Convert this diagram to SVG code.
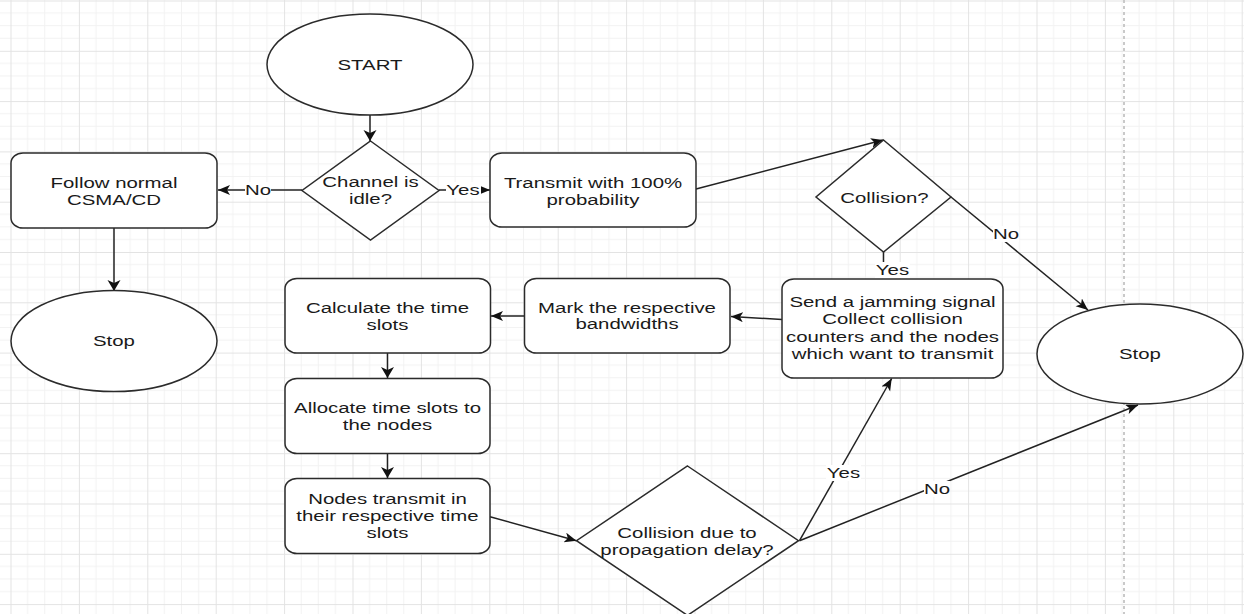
<svg xmlns="http://www.w3.org/2000/svg" width="1244" height="614" viewBox="0 0 1244 614">
<style>
.t{font-family:"Liberation Sans",Arial,sans-serif;font-size:15px;fill:#1a1a1a;text-anchor:middle}
.s{fill:#fff;stroke:#2b2b2b;stroke-width:1.5}
.c{fill:none;stroke:#222;stroke-width:1.5}
.lb{fill:#fff}
</style>
<defs>
<pattern id="grid" x="10.5" y="0.5" width="68.4" height="50.3" patternUnits="userSpaceOnUse">
<path d="M17.1 0V50.3M34.2 0V50.3M51.3 0V50.3M0 12.575H68.4M0 25.15H68.4M0 37.725H68.4" stroke="#f2f2f2" stroke-width="1" fill="none"/>
<path d="M0.5 0V50.3M0 0.5H68.4" stroke="#e3e3e3" stroke-width="1" fill="none"/>
</pattern>
<marker id="ah" markerUnits="userSpaceOnUse" markerWidth="14" markerHeight="12" refX="12" refY="5" orient="auto">
<path d="M0,0 L12,5 L0,10 L3,5 z" fill="#111"/>
</marker>
<marker id="av" markerUnits="userSpaceOnUse" markerWidth="14" markerHeight="14" refX="11" refY="6.5" orient="auto">
<path d="M0,0 L11,6.5 L0,13 L3,6.5 z" fill="#111"/>
</marker>
</defs>
<rect width="1244" height="614" fill="#fff"/>
<rect width="1244" height="614" fill="url(#grid)"/>
<line x1="1124" y1="0" x2="1124" y2="614" stroke="#c9c9c9" stroke-width="2" stroke-dasharray="3 3"/>

<g id="connectors">
<line class="c" x1="370" y1="115" x2="370" y2="141" marker-end="url(#av)"/>
<line class="c" x1="302" y1="190" x2="218" y2="190" marker-end="url(#ah)"/>
<line class="c" x1="439" y1="190" x2="490" y2="190" marker-end="url(#ah)"/>
<line class="c" x1="114" y1="228" x2="114" y2="291" marker-end="url(#av)"/>
<line class="c" x1="696" y1="189" x2="883" y2="140" marker-end="url(#ah)"/>
<line class="c" x1="883.5" y1="252" x2="883.5" y2="264"/>
<line class="c" x1="951" y1="197" x2="1088" y2="310" marker-end="url(#ah)"/>
<line class="c" x1="782" y1="319.5" x2="731" y2="316.5" marker-end="url(#ah)"/>
<line class="c" x1="524.5" y1="316" x2="491" y2="316" marker-end="url(#ah)"/>
<line class="c" x1="387.5" y1="353" x2="387.5" y2="378" marker-end="url(#av)"/>
<line class="c" x1="387.5" y1="453" x2="387.5" y2="478" marker-end="url(#av)"/>
<line class="c" x1="490" y1="516.7" x2="576.5" y2="540.7" marker-end="url(#ah)"/>
<line class="c" x1="799.5" y1="540.7" x2="891.7" y2="378.5" marker-end="url(#ah)"/>
<line class="c" x1="799.5" y1="540.7" x2="1138" y2="405" marker-end="url(#ah)"/>
<rect class="lb" x="245" y="182" width="26" height="16"/>
<text class="t" transform="translate(258 0) scale(1.36 1)" x="0" y="195.5">No</text>
<rect class="lb" x="446" y="182" width="35" height="16"/>
<text class="t" transform="translate(463 0) scale(1.36 1)" x="0" y="195.5">Yes</text>
<rect class="lb" x="875" y="262" width="35" height="16"/>
<text class="t" transform="translate(892.5 0) scale(1.36 1)" x="0" y="275">Yes</text>
<rect class="lb" x="993" y="226" width="26" height="16"/>
<text class="t" transform="translate(1006 0) scale(1.36 1)" x="0" y="239.5">No</text>
<rect class="lb" x="826" y="465" width="35" height="16"/>
<text class="t" transform="translate(843.5 0) scale(1.36 1)" x="0" y="478.5">Yes</text>
<rect class="lb" x="924" y="481" width="26" height="16"/>
<text class="t" transform="translate(937 0) scale(1.36 1)" x="0" y="494">No</text>
</g>

<g id="start">
<ellipse class="s" cx="370" cy="64.5" rx="103" ry="50.5"/>
<text class="t" transform="translate(370 0) scale(1.36 1)" x="0" y="70.5">START</text>
</g>
<g id="channel-idle">
<polygon class="s" points="370.5,141 439,190.5 370.5,240 302,190.5"/>
<text class="t" transform="translate(370.5 0) scale(1.36 1)"><tspan x="0" y="187.5">Channel is</tspan><tspan x="0" y="204.5">idle?</tspan></text>
</g>
<g id="follow-csma">
<rect class="s" x="11" y="153" width="206" height="75" rx="12" ry="10"/>
<text class="t" transform="translate(114 0) scale(1.36 1)"><tspan x="0" y="188.5">Follow normal</tspan><tspan x="0" y="205">CSMA/CD</tspan></text>
</g>
<g id="stop-left">
<ellipse class="s" cx="114" cy="341" rx="103" ry="50.5"/>
<text class="t" transform="translate(114 0) scale(1.36 1)" x="0" y="346.5">Stop</text>
</g>
<g id="transmit">
<rect class="s" x="490" y="153" width="206" height="74" rx="12" ry="10"/>
<text class="t" transform="translate(593 0) scale(1.36 1)"><tspan x="0" y="188.5">Transmit with 100%</tspan><tspan x="0" y="205">probability</tspan></text>
</g>
<g id="collision">
<polygon class="s" points="883.5,140 951,197 883.5,252 816,197"/>
<text class="t" transform="translate(884.5 0) scale(1.36 1)" x="0" y="203">Collision?</text>
</g>
<g id="stop-right">
<ellipse class="s" cx="1140" cy="354" rx="103" ry="50"/>
<text class="t" transform="translate(1140 0) scale(1.36 1)" x="0" y="359.5">Stop</text>
</g>
<g id="jamming">
<rect class="s" x="782" y="279" width="221" height="99" rx="12" ry="10"/>
<text class="t" transform="translate(892.5 0) scale(1.36 1)"><tspan x="0" y="307.3">Send a jamming signal</tspan><tspan x="0" y="324.5">Collect collision</tspan><tspan x="0" y="341.7">counters and the nodes</tspan><tspan x="0" y="359">which want to transmit</tspan></text>
</g>
<g id="mark-bandwidths">
<rect class="s" x="524.5" y="278.5" width="205.5" height="74.5" rx="12" ry="10"/>
<text class="t" transform="translate(627 0) scale(1.36 1)"><tspan x="0" y="312.7">Mark the respective</tspan><tspan x="0" y="329.5">bandwidths</tspan></text>
</g>
<g id="calculate">
<rect class="s" x="285" y="278.5" width="205.5" height="74.5" rx="12" ry="10"/>
<text class="t" transform="translate(387.5 0) scale(1.36 1)"><tspan x="0" y="313">Calculate the time</tspan><tspan x="0" y="330">slots</tspan></text>
</g>
<g id="allocate">
<rect class="s" x="285" y="378.5" width="205" height="75" rx="12" ry="10"/>
<text class="t" transform="translate(387.5 0) scale(1.36 1)"><tspan x="0" y="413.3">Allocate time slots to</tspan><tspan x="0" y="430.3">the nodes</tspan></text>
</g>
<g id="nodes-transmit">
<rect class="s" x="285" y="478.5" width="205" height="75" rx="12" ry="10"/>
<text class="t" transform="translate(387.5 0) scale(1.36 1)"><tspan x="0" y="504.3">Nodes transmit in</tspan><tspan x="0" y="521.5">their respective time</tspan><tspan x="0" y="538.5">slots</tspan></text>
</g>
<g id="collision-delay">
<polygon class="s" points="687.5,466 798.5,540.7 687.5,615.4 576.5,540.7"/>
<text class="t" transform="translate(687 0) scale(1.36 1)"><tspan x="0" y="538.5">Collision due to</tspan><tspan x="0" y="555.5">propagation delay?</tspan></text>
</g>
</svg>
